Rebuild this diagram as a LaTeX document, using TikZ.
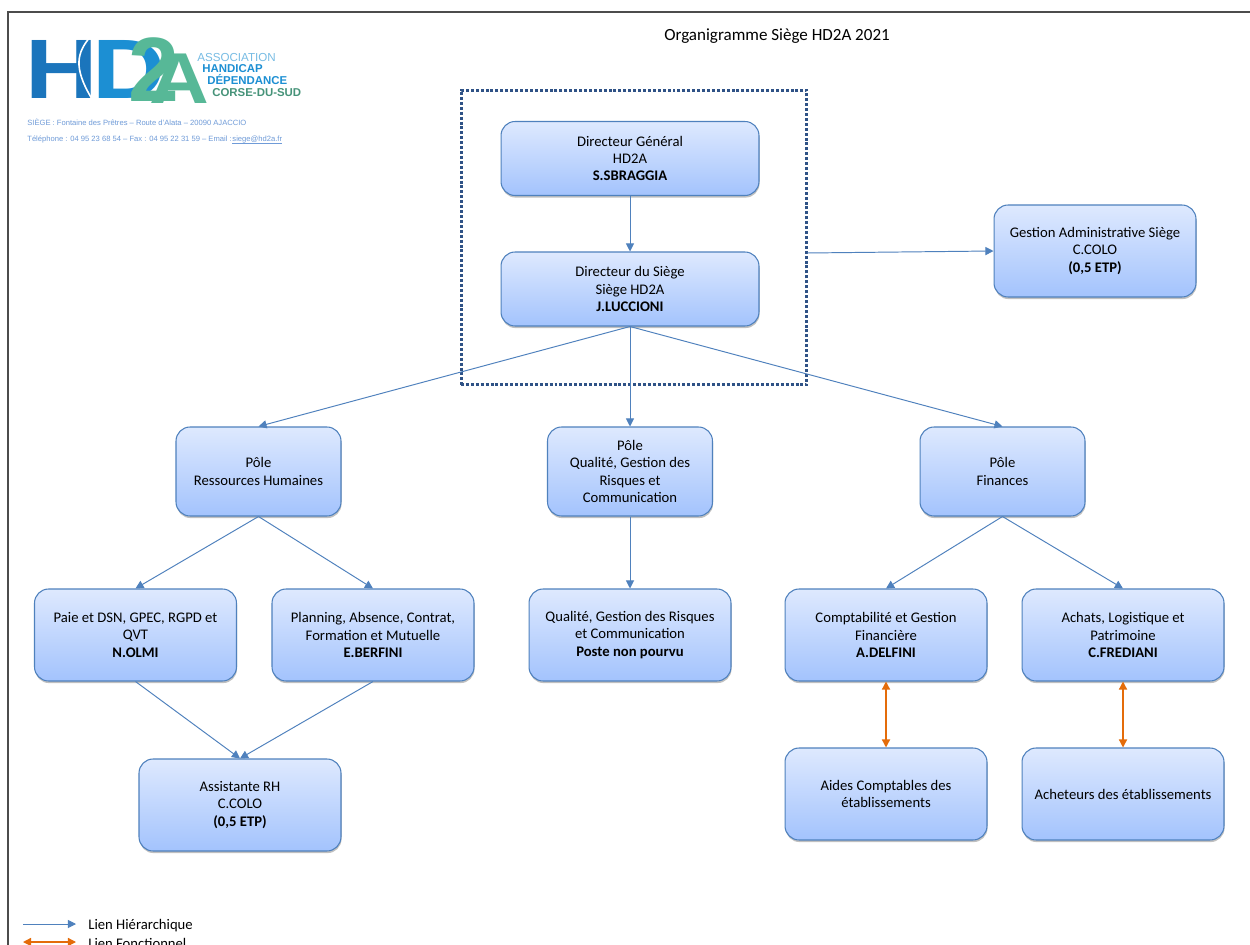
\documentclass[tikz,border=0pt]{standalone}
\usepackage{fontspec}
\setmainfont{Carlito}
\newfontfamily\logofont{Liberation Sans}
\usetikzlibrary{arrows.meta,shadows}
\definecolor{lienbleu}{HTML}{4F81BD}
\definecolor{lienorange}{HTML}{E46C0A}
\definecolor{cadrebleu}{HTML}{2F5286}
\definecolor{boitehaut}{HTML}{DEE9FE}
\definecolor{boitebas}{HTML}{A3C3FD}
\definecolor{logobleu}{HTML}{1B75BC}
\definecolor{logociel}{HTML}{1C8FD3}
\definecolor{logovert}{HTML}{57B897}
\definecolor{logotexte}{HTML}{6F9BD8}
\tikzset{
	boite/.style={draw=lienbleu, line width=0.6pt, rounded corners=8pt, top color=boitehaut, bottom color=boitebas,
		drop shadow={shadow xshift=0.3pt, shadow yshift=-1.2pt, opacity=0.35, fill=black!70},
		align=center, inner sep=0pt, font=\fontsize{8.35}{9.9}\selectfont},
	boitedir/.style={boite, minimum width=5.16cm, minimum height=1.48cm},
	boitepole/.style={boite, minimum width=3.3cm, minimum height=1.78cm},
	boitelarge/.style={boite, minimum width=4.04cm, minimum height=1.84cm},
	lien/.style={draw=lienbleu, line width=0.55pt, -{Triangle[length=4.6pt,width=4.6pt]}},
	lienfonc/.style={draw=lienorange, line width=0.8pt, {Triangle[length=4.6pt,width=4.6pt]}-{Triangle[length=4.6pt,width=4.6pt]}},
	logotxt/.style={inner sep=0pt, anchor=base west, font=\logofont\fontsize{4.33}{5}\selectfont, text=logotexte},
}
\begin{document}
\begin{tikzpicture}[x=0.02cm,y=-0.02cm]
	\path[use as bounding box,clip] (0,0) rectangle (1250,945);
	\fill[white] (0,0) rectangle (1250,945);
	\draw[black!70, line width=0.6pt] (8,12) rectangle (1270,965);

	% logo
	\node[inner sep=0pt, anchor=base west, text=logobleu, font=\logofont\bfseries\fontsize{48}{48}\selectfont] (logoh) at (25,99) {\scalebox{1.19}[1]{H}};
	\draw[white, line width=0.9pt] (90,37) .. controls (78,52) and (72,66) .. (92,99);
	\node[inner sep=0pt, anchor=base west, text=logociel, font=\logofont\bfseries\fontsize{48}{48}\selectfont] (logod) at (92,99) {\scalebox{1.2}[1]{D}};
	\node[inner sep=0pt, anchor=base west, text=logovert, font=\logofont\bfseries\fontsize{52}{52}\selectfont] (logodeux) at (128,102) {2};
	\node[inner sep=0pt, anchor=base west, text=logovert, font=\logofont\bfseries\fontsize{41}{41}\selectfont] (logoa) at (149,104) {\scalebox{1.15}[1]{A}};
	\node[inner sep=0pt, anchor=base west, text=logociel!60!white, font=\logofont\fontsize{6.6}{8}\selectfont] (logoasso) at (197,62) {ASSOCIATION};
	\node[inner sep=0pt, anchor=base west, text=logociel, font=\logofont\bfseries\fontsize{6.5}{8}\selectfont] (logohand) at (202,73) {HANDICAP};
	\node[inner sep=0pt, anchor=base west, text=logociel, font=\logofont\bfseries\fontsize{6.5}{8}\selectfont] (logodep) at (207,85) {DÉPENDANCE};
	\node[inner sep=0pt, anchor=base west, text=logovert!80!black, font=\logofont\bfseries\fontsize{6.5}{8}\selectfont] (logocorse) at (212,97) {CORSE-DU-SUD};
	\node[logotxt] (adresse) at (27,126) {SIÈGE : Fontaine des Prêtres – Route d’Alata – 20090 AJACCIO};
	\node[logotxt] (tel) at (27,142) {Téléphone : 04 95 23 68 54 – Fax : 04 95 22 31 59 – Email :\ };
	\node[logotxt] (mail) at (tel.base east) {siege@hd2a.fr};
	\draw[logotexte, line width=0.3pt] ([yshift=-0.7pt]mail.base west) -- ([yshift=-0.7pt]mail.base east);

	\node[font=\fontsize{9.7}{11}\selectfont, inner sep=0pt] (titre) at (777,36.5) {Organigramme Siège HD2A 2021};

	\node[draw=cadrebleu, line width=1.7pt, dash pattern=on 1.7pt off 1.1pt, minimum width=6.92cm, minimum height=5.9cm, inner sep=0pt] (cadre) at (634,237.5) {};
	\coordinate (depart) at (807,253);

	\node[boitedir] (dg) at (630,158.5) {Directeur Général\\HD2A\\\textbf{S.SBRAGGIA}};
	\node[boitedir] (ds) at (630,289) {Directeur du Siège\\Siège HD2A\\\textbf{J.LUCCIONI}};
	\node[boitelarge] (admin) at (1095,251) {Gestion Administrative Siège\\C.COLO\\\textbf{(0,5 ETP)}};

	\node[boitepole] (rh) at (258.5,471.5) {Pôle\\Ressources Humaines};
	\node[boitepole] (qualite) at (630,471.5) {Pôle\\Qualité, Gestion des\\Risques et\\Communication};
	\node[boitepole] (finances) at (1002.5,471.5) {Pôle\\Finances};

	\node[boitelarge] (paie) at (135.5,635) {Paie et DSN, GPEC, RGPD et\\QVT\\\textbf{N.OLMI}};
	\node[boitelarge] (planning) at (373,635) {Planning, Absence, Contrat,\\Formation et Mutuelle\\\textbf{E.BERFINI}};
	\node[boitelarge] (gestion) at (630,635) {Qualité, Gestion des Risques\\et Communication\\\textbf{Poste non pourvu}};
	\node[boitelarge] (compta) at (886,635) {Comptabilité et Gestion\\Financière\\\textbf{A.DELFINI}};
	\node[boitelarge] (achats) at (1123,635) {Achats, Logistique et\\Patrimoine\\\textbf{C.FREDIANI}};

	\node[boitelarge] (assistante) at (240,805) {Assistante RH\\C.COLO\\\textbf{(0,5 ETP)}};
	\node[boitelarge] (aides) at (886,794) {Aides Comptables des\\établissements};
	\node[boitelarge] (acheteurs) at (1123,794) {Acheteurs des établissements};

	\draw[lien] (dg) -- (ds);
	\draw[lien] (depart) -- (admin.west);
	\draw[lien] (ds.south) -- (rh.north);
	\draw[lien] (ds.south) -- (qualite.north);
	\draw[lien] (ds.south) -- (finances.north);
	\draw[lien] (rh.south) -- (paie.north);
	\draw[lien] (rh.south) -- (planning.north);
	\draw[lien] (qualite.south) -- (gestion.north);
	\draw[lien] (finances.south) -- (compta.north);
	\draw[lien] (finances.south) -- (achats.north);
	\draw[lien] (paie.south) -- (assistante.north);
	\draw[lien] (planning.south) -- (assistante.north);
	\draw[lienfonc] (compta.south) -- (aides.north);
	\draw[lienfonc] (achats.south) -- (acheteurs.north);

	% legende
	\coordinate (hier0) at (23,924);
	\coordinate (hier1) at (76,924);
	\coordinate (fonc0) at (23,942);
	\coordinate (fonc1) at (76,942);
	\draw[lien] (hier0) -- (hier1);
	\draw[lienfonc] (fonc0) -- (fonc1);
	\node[inner sep=0pt, anchor=west, font=\fontsize{8.35}{9.9}\selectfont] (lienh) at (88,925.5) {Lien Hiérarchique};
	\node[inner sep=0pt, anchor=west, font=\fontsize{8.35}{9.9}\selectfont] (lienf) at (88,943) {Lien Fonctionnel};
\end{tikzpicture}
\end{document}
